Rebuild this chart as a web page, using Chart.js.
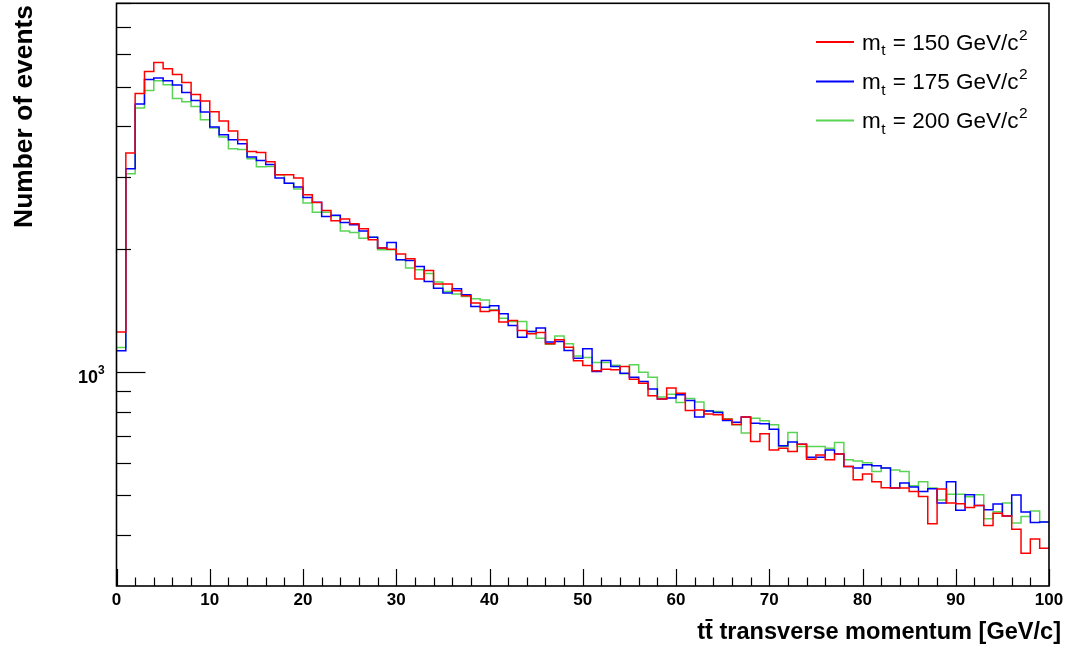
<!DOCTYPE html>
<html><head><meta charset="utf-8">
<script src="https://cdn.jsdelivr.net/npm/chart.js@4/dist/chart.umd.min.js"></script>
<style>html,body{margin:0;padding:0;background:#fff;overflow:hidden}canvas{display:block}</style>
</head><body>
<canvas id="c" width="1068" height="661"></canvas>
<script>
// ---- data (events per 1 GeV/c bin, 0..100 GeV/c) ----
const xMin = 0, xMax = 100, binWidth = 1;
const mt150 = [1256,3440,4813,5448,5732,5532,5357,5122,4786,4610,
4341,4120,3894,3707,3470,3451,3275,3044,3044,2988,
2719,2604,2489,2349,2371,2309,2245,2110,2014,2002,
1947,1896,1691,1775,1644,1644,1583,1539,1477,1409,
1416,1327,1339,1266,1242,1252,1174,1201,1152,1067,
1039,1009,1018,1014,1033,962,941,876,860,915,
889,806,809,791,787,768,745,777,677,707,
646,652,640,667,613,628,611,631,588,546,
564,540,522,521,521,511,497,426,518,479,
477,467,472,422,452,445,413,361,391,371];
const mt175 = [1129,3148,4533,5208,5248,5170,5047,4840,4627,4334,
3983,3814,3707,3625,3363,3299,3226,2988,2904,2840,
2678,2609,2406,2425,2326,2296,2216,2142,2014,2078,
1885,1877,1815,1668,1607,1563,1601,1548,1449,1444,
1455,1391,1302,1219,1259,1283,1186,1190,1131,1083,
1142,1005,1069,1033,995,973,950,910,860,865,
881,853,777,804,797,762,755,777,751,748,
726,661,675,667,620,620,646,631,588,583,
594,591,583,521,536,524,511,519,479,540,
460,502,472,461,476,445,501,455,429,430];
const mt200 = [1150,3061,4432,4895,5170,5053,4679,4592,4472,4150,
3960,3764,3524,3510,3331,3184,3190,3044,2904,2808,
2595,2466,2466,2415,2216,2198,2130,2142,1994,1994,
1885,1799,1782,1745,1663,1577,1554,1533,1513,1504,
1422,1357,1331,1331,1259,1212,1172,1228,1174,1097,
1087,1057,1057,1041,992,1043,1000,973,870,884,
844,863,846,805,802,770,744,710,772,761,
744,658,712,658,658,658,652,673,611,607,
601,572,583,577,572,528,540,521,487,503,
503,496,502,438,456,479,428,444,458,430];
const seriesMasses = ['150','175','200'];
const xTickValues = [0,10,20,30,40,50,60,70,80,90,100];
const xMinorStep = 2;
const yMin = 300, yMax = 8000;
const yMajorTicks = [1000];
const yMinorTicks = [400,500,600,700,800,900,2000,3000,4000,5000,6000,7000,8000];
const xAxisTitle = 'tt\u0304 transverse momentum [GeV/c]';
const yAxisTitle = 'Number of events';

const colors = ['#ff0000','#0000ff','#59d454'];
const FONT = '"Liberation Sans", Arial, Helvetica, sans-serif';

function histPoints(vals){
  const pts = vals.map((v,i)=>({x:xMin+i*binWidth, y:v}));
  pts.push({x:xMin+vals.length*binWidth, y:vals[vals.length-1]});
  return pts;
}
const allSeries = [mt150, mt175, mt200];

const rootPlugin = {
  id:'rootStyle',
  afterDraw(chart){
    const ctx = chart.ctx, a = chart.chartArea, xs = chart.scales.x, ys = chart.scales.y;
    ctx.save();
    ctx.strokeStyle = '#000'; ctx.fillStyle = '#000';
    // ticks
    ctx.lineWidth = 1.2;
    for(let v=xMin; v<=xMax+1e-9; v+=xMinorStep){
      const px = Math.round(xs.getPixelForValue(v))+0.5;
      const major = xTickValues.includes(v);
      ctx.beginPath(); ctx.moveTo(px,a.bottom); ctx.lineTo(px,a.bottom-(major?17:8.5)); ctx.stroke();
    }
    yMajorTicks.forEach(v=>{const py=Math.round(ys.getPixelForValue(v))+0.5;
      ctx.beginPath(); ctx.moveTo(a.left,py); ctx.lineTo(a.left+29,py); ctx.stroke();});
    yMinorTicks.forEach(v=>{const py=Math.round(ys.getPixelForValue(v))+0.5;
      ctx.beginPath(); ctx.moveTo(a.left,py); ctx.lineTo(a.left+14.5,py); ctx.stroke();});
    // frame
    ctx.lineWidth = 1.6;
    ctx.strokeRect(a.left, a.top, a.right-a.left, a.bottom-a.top);
    // x tick labels
    ctx.font = 'bold 17px '+FONT; ctx.textAlign='center'; ctx.textBaseline='alphabetic';
    xTickValues.forEach(v=>{ ctx.fillText(String(v), xs.getPixelForValue(v), 605); });
    // y tick labels 10^3
    yMajorTicks.forEach(v=>{
      const py = ys.getPixelForValue(v);
      const exp = String(Math.round(Math.log10(v)));
      ctx.font = 'bold 12px '+FONT;
      ctx.textAlign='left'; ctx.fillText(exp, 98, py+1.5);
      ctx.font = 'bold 18px '+FONT; ctx.textAlign='right'; ctx.fillText('10', 98, py+11);
    });
    // axis titles
    ctx.font = 'bold 22px '+FONT;
    let w = ctx.measureText(xAxisTitle).width; let fs = 22*364/w;
    ctx.font = 'bold '+fs.toFixed(2)+'px '+FONT;
    ctx.textAlign='right'; ctx.textBaseline='alphabetic';
    ctx.fillText(xAxisTitle, 1061, 639);
    ctx.save();
    ctx.font = 'bold 22px '+FONT;
    w = ctx.measureText(yAxisTitle).width; fs = 22*223/w;
    ctx.font = 'bold '+fs.toFixed(2)+'px '+FONT;
    ctx.translate(32, 5); ctx.rotate(-Math.PI/2);
    ctx.textAlign='right'; ctx.textBaseline='alphabetic';
    ctx.fillText(yAxisTitle, 0, 0);
    ctx.restore();
    // legend
    const rows = [42, 81.5, 120.5];
    seriesMasses.forEach((m,i)=>{
      const y = rows[i];
      ctx.strokeStyle = colors[i]; ctx.lineWidth = 2;
      ctx.beginPath(); ctx.moveTo(816,y); ctx.lineTo(854,y); ctx.stroke();
      let x = 862; const base = y+7.5;
      ctx.textAlign='left'; ctx.fillStyle='#000';
      ctx.font = '22.5px '+FONT; ctx.fillText('m', x, base); x += ctx.measureText('m').width+0.5;
      ctx.font = '15.5px '+FONT; ctx.fillText('t', x, base+5.5); x += ctx.measureText('t').width+1;
      ctx.font = '22.5px '+FONT; const s = ' = '+m+' GeV/c'; ctx.fillText(s, x, base); x += ctx.measureText(s).width+0.5;
      ctx.font = '15.5px '+FONT; ctx.fillText('2', x, base-10);
    });
    ctx.restore();
  }
};

new Chart(document.getElementById('c').getContext('2d'), {
  type:'line',
  data:{ datasets: allSeries.map((vals,i)=>({
    label:'m_t = '+seriesMasses[i]+' GeV/c^2',
    data: histPoints(vals),
    borderColor: colors[i], borderWidth: 1.5, pointRadius: 0, fill:false,
    stepped:'before', tension:0
  }))},
  options:{
    responsive:false, animation:false, events:[],
    layout:{padding:{left:116.5, right:19, top:3.3, bottom:75}},
    plugins:{legend:{display:false}, tooltip:{enabled:false}},
    scales:{
      x:{type:'linear', min:xMin, max:xMax, display:false},
      y:{type:'logarithmic', min:yMin, max:yMax, display:false}
    }
  },
  plugins:[rootPlugin]
});
</script>
</body></html>
